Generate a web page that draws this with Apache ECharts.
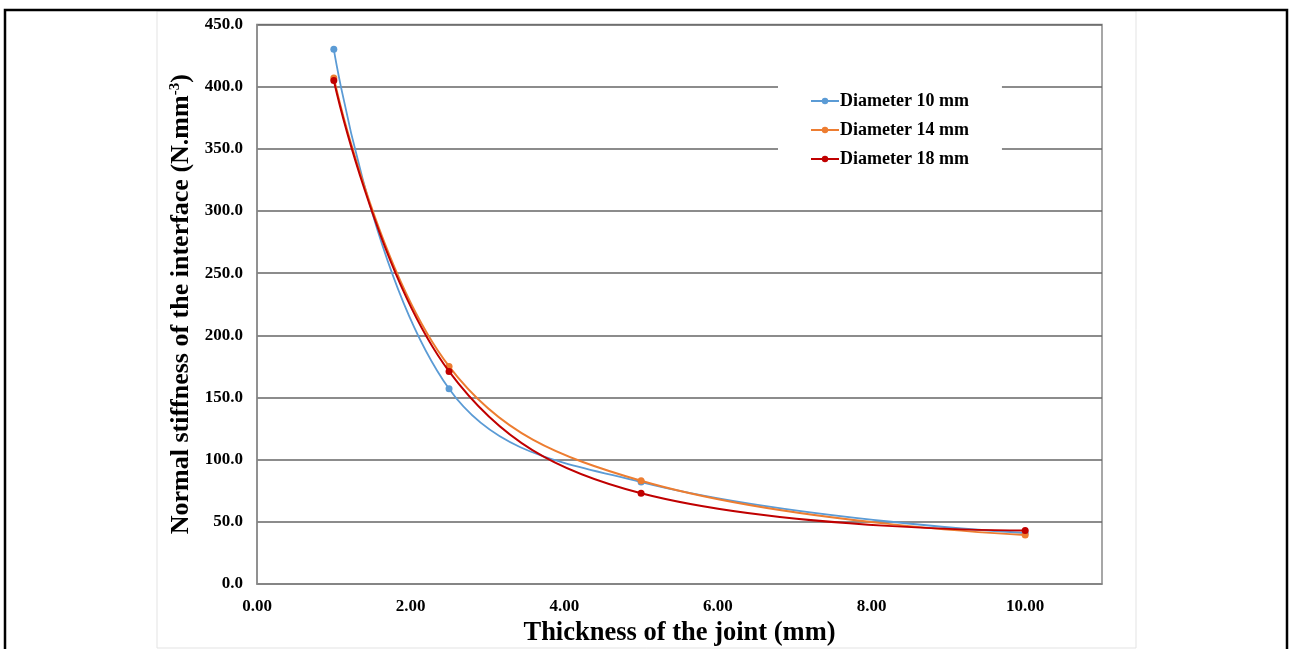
<!DOCTYPE html>
<html>
<head>
<meta charset="utf-8">
<script src="https://cdn.jsdelivr.net/npm/echarts@6/dist/echarts.min.js"></script>
<style>
  html, body { margin: 0; padding: 0; background: #fff; }
  #chart { width: 1289px; height: 649px; }
</style>
</head>
<body>
<div id="chart"></div>
<script>
// joint thickness (mm)
const thickness = [1, 2.5, 5, 10]
const seriesNames = ['Diameter 10 mm', 'Diameter 14 mm', 'Diameter 18 mm']
const dia10 = [430, 157, 82, 41]
const dia14 = [407, 175, 83, 39.5]
const dia18 = [405, 171, 73, 43]
const COLORS = ['#5B9BD5', '#ED7D31', '#C00000']

const FONT = '"Liberation Serif", "Times New Roman", serif'

const chart = echarts.init(document.getElementById('chart'))

function pairs(ys) {
  return thickness.map((x, i) => [x, ys[i]])
}

const series = [dia10, dia14, dia18].map((ys, i) => ({
  name: seriesNames[i],
  type: 'line',
  smooth: 0.4,
  symbol: 'circle',
  symbolSize: 7,
  data: pairs(ys),
  lineStyle: { width: i === 0 ? 1.8 : 2, color: COLORS[i] },
  itemStyle: { color: COLORS[i] },
  z: 2 + i,
}))

chart.setOption({
  animation: false,
  backgroundColor: '#fff',
  graphic: [
    {
      type: 'rect',
      shape: { x: 157, y: 11, width: 979, height: 637 },
      style: { fill: 'none', stroke: '#e3e3e3', lineWidth: 1 },
      z: -1,
    },
    {
      type: 'rect',
      shape: { x: 5, y: 10, width: 1282, height: 660 },
      style: { fill: 'none', stroke: '#000', lineWidth: 2.5 },
      z: -1,
    },
  ],
  grid: {
    left: 257, right: 187, top: 24.5, bottom: 65,
    outerBoundsMode: 'none', containLabel: false,
    show: true, borderColor: '#8a8a8a', borderWidth: 1.5,
  },
  legend: {
    orient: 'vertical',
    left: 778,
    top: 78,
    padding: [14, 33, 8, 32],
    backgroundColor: '#fff',
    itemWidth: 28,
    itemHeight: 8,
    itemGap: 11,
    data: seriesNames,
    textStyle: { fontFamily: FONT, fontWeight: 'bold', fontSize: 18, color: '#000', padding: [0, 0, 0, -4] },
  },
  xAxis: {
    type: 'value',
    min: 0,
    max: 11,
    interval: 2,
    name: 'Thickness of the joint (mm)',
    nameLocation: 'middle',
    nameGap: 35,
    nameTextStyle: { fontFamily: FONT, fontWeight: 'bold', fontSize: 26.5, color: '#000' },
    axisLine: { show: true, lineStyle: { color: '#8a8a8a', width: 1.5 } },
    axisTick: { show: false },
    splitLine: { show: false },
    axisLabel: {
      margin: 14,
      showMaxLabel: false,
      fontFamily: FONT, fontWeight: 'bold', fontSize: 17, color: '#000',
      formatter: v => v.toFixed(2),
    },
  },
  yAxis: {
    type: 'value',
    min: 0,
    max: 450,
    interval: 50,
    name: '{t|Normal stiffness of the interface (N.mm}{s|-3}{t|)}',
    nameLocation: 'middle',
    nameGap: 62,
    nameTextStyle: {
      rich: {
        t: { fontFamily: FONT, fontWeight: 'bold', fontSize: 26, color: '#000' },
        s: { fontFamily: FONT, fontWeight: 'bold', fontSize: 15, color: '#000', verticalAlign: 'top', padding: [0, 0, 11, 0] },
      },
    },
    axisLine: { show: true, lineStyle: { color: '#8a8a8a', width: 1.5 } },
    axisTick: { show: false },
    splitLine: { show: true, lineStyle: { color: '#666', width: 1.5 } },
    axisLabel: {
      margin: 14,
      fontFamily: FONT, fontWeight: 'bold', fontSize: 17, color: '#000',
      formatter: v => v.toFixed(1),
    },
  },
  series,
})
</script>
</body>
</html>
